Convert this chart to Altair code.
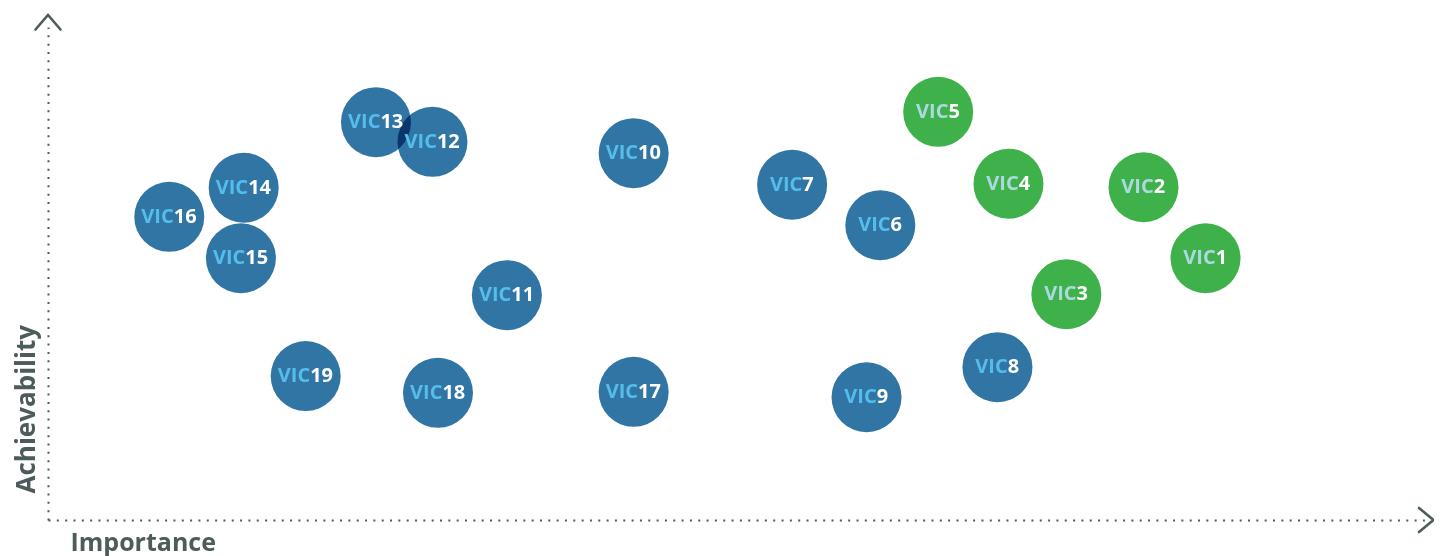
import altair as alt
import pandas as pd

# ---- data ----
labels = ["VIC1", "VIC2", "VIC3", "VIC4", "VIC5", "VIC6", "VIC7", "VIC8", "VIC9", "VIC10",
          "VIC11", "VIC12", "VIC13", "VIC14", "VIC15", "VIC16", "VIC17", "VIC18", "VIC19"]
numbers = ["1", "2", "3", "4", "5", "6", "7", "8", "9", "10",
           "11", "12", "13", "14", "15", "16", "17", "18", "19"]
importance = [8.40, 7.95, 7.39, 6.97, 6.46, 6.04, 5.40, 6.89, 5.94, 4.25,
              3.33, 2.79, 2.38, 1.42, 1.40, 0.88, 4.25, 2.83, 1.87]
achievability = [5.31, 6.75, 4.58, 6.82, 8.28, 5.98, 6.80, 3.10, 2.49, 7.44,
                 4.56, 7.67, 8.07, 6.74, 5.31, 6.15, 2.60, 2.58, 2.92]
group = ["Priority", "Priority", "Priority", "Priority", "Priority",
         "Other", "Other", "Other", "Other", "Other", "Other", "Other", "Other",
         "Other", "Other", "Other", "Other", "Other", "Other"]

x_domain = [0, 10]
y_domain = [0, 10]

AXIS_COLOR = "#4d5b5b"
BLUE = "#3175a5"
GREEN = "#3fb14b"
FONT = "Open Sans"

df = pd.DataFrame({
    "label": labels,
    "num": numbers,
    "importance": importance,
    "achievability": achievability,
    "group": group,
})
df["digits"] = df["num"].str.len()

x_enc = alt.X(
    "importance:Q",
    scale=alt.Scale(domain=x_domain, nice=False, zero=False),
    axis=alt.Axis(
        title="Importance", labels=False, ticks=False, grid=False,
        domainColor=AXIS_COLOR, domainDash=[2, 6.33], domainWidth=2,
        titleFont=FONT, titleFontSize=25, titleFontWeight="bold", titleColor=AXIS_COLOR,
        titleAnchor="start", titleAlign="left", titleBaseline="alphabetic",
        titleX=22, titleY=30,
    ),
)
y_enc = alt.Y(
    "achievability:Q",
    scale=alt.Scale(domain=y_domain, nice=False, zero=False),
    axis=alt.Axis(
        title="Achievability", labels=False, ticks=False, grid=False,
        domainColor=AXIS_COLOR, domainDash=[2, 6.33], domainWidth=2,
        titleFont=FONT, titleFontSize=26, titleFontWeight="bold", titleColor=AXIS_COLOR,
        titleAnchor="start", titleAngle=270, titleAlign="left", titleBaseline="alphabetic",
        titleX=-14, titleY=466,
    ),
)

base = alt.Chart(df)

circles = base.mark_circle(size=4900, opacity=1, blend="multiply").encode(
    x=x_enc,
    y=y_enc,
    color=alt.Color("group:N", scale=alt.Scale(domain=["Priority", "Other"], range=[GREEN, BLUE]),
                    legend=None),
)

def text_layers(n_digits, dx):
    sub = base.transform_filter(alt.datum.digits == n_digits)
    vic = sub.mark_text(text="VIC", align="right", baseline="middle", dx=dx,
                        font=FONT, fontSize=20, fontWeight="bold").encode(
        x=x_enc, y=y_enc,
        color=alt.condition(alt.datum.group == "Priority", alt.value("#acd8e2"), alt.value("#54bdea")),
    )
    num = sub.mark_text(align="left", baseline="middle", dx=dx,
                        font=FONT, fontSize=20, fontWeight="bold", color="white").encode(
        x=x_enc, y=y_enc, text="num:N",
    )
    return [vic, num]

arrows_df = pd.DataFrame({"importance": [x_domain[0]], "achievability": [y_domain[1]]})
arrows_df2 = pd.DataFrame({"importance": [x_domain[1]], "achievability": [y_domain[0]]})

arrow_up = alt.Chart(arrows_df).mark_point(
    shape="M -1 0.2 L 0 -0.96 L 1 0.2", filled=False, size=625, strokeWidth=2.6,
    color=AXIS_COLOR, opacity=1, strokeCap="round",
).encode(x=x_enc, y=y_enc)
arrow_right = alt.Chart(arrows_df2).mark_point(
    shape="M -0.56 -0.96 L 0.6 0 L -0.56 0.96", filled=False, size=625, strokeWidth=2.6,
    color=AXIS_COLOR, opacity=1, strokeCap="round",
).encode(x=x_enc, y=y_enc)

layers = [circles] + text_layers(2, 4.45) + text_layers(1, 10.2) + [arrow_up, arrow_right]

chart = alt.layer(*layers).properties(
    width=1378,
    height=493,
    padding={"left": 40, "top": 19, "right": 8, "bottom": 36},
    autosize=alt.AutoSizeParams(type="none"),
    background="white",
).configure_view(stroke=None)

chart.save("out.html", embed_options={"renderer": "svg", "actions": False})
